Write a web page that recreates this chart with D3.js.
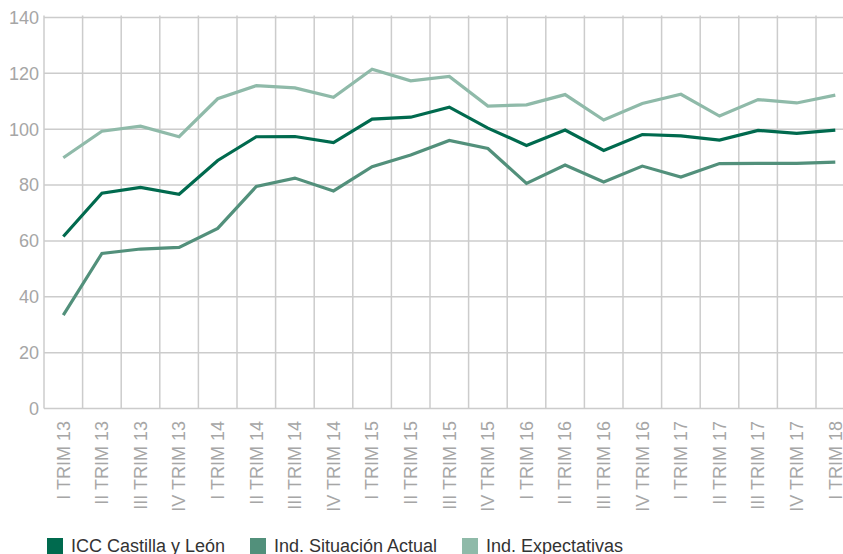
<!DOCTYPE html>
<html>
<head>
<meta charset="utf-8">
<script src="https://cdn.jsdelivr.net/npm/d3@7"></script>
<style>
  body { margin: 0; background: #fff; }
  svg { display: block; font-family: "Liberation Sans", Arial, sans-serif; }
</style>
</head>
<body>
<div id="canvas"></div>
<script>
// quarters
var periods = ["I TRIM 13", "II TRIM 13", "III TRIM 13", "IV TRIM 13",
               "I TRIM 14", "II TRIM 14", "III TRIM 14", "IV TRIM 14",
               "I TRIM 15", "II TRIM 15", "III TRIM 15", "IV TRIM 15",
               "I TRIM 16", "II TRIM 16", "III TRIM 16", "IV TRIM 16",
               "I TRIM 17", "II TRIM 17", "III TRIM 17", "IV TRIM 17",
               "I TRIM 18"];

var icc = [61.6, 77.1, 79.2, 76.7, 88.8, 97.3, 97.4, 95.2, 103.6, 104.3, 107.9,
           100.4, 94.2, 99.7, 92.4, 98.1, 97.6, 96.1, 99.6, 98.5, 99.7];
var actual = [33.4, 55.5, 57.1, 57.7, 64.5, 79.5, 82.5, 77.9, 86.6, 90.8, 96.0,
              93.1, 80.6, 87.2, 81.1, 86.8, 82.9, 87.7, 87.8, 87.8, 88.2];
var expect = [89.8, 99.3, 101.1, 97.3, 110.9, 115.6, 114.8, 111.4, 121.5, 117.3, 118.9,
              108.3, 108.7, 112.4, 103.3, 109.2, 112.5, 104.7, 110.6, 109.4, 112.2];

var seriesNames = ["ICC Castilla y León", "Ind. Situación Actual", "Ind. Expectativas"];
var seriesColors = ["#006a4e", "#52907b", "#8fbaa9"];
var yTicks = [0, 20, 40, 60, 80, 100, 120, 140];

draw();

function draw(){
	var w = 843,
	    h = 554;
	var svg = d3.select("#canvas").append("svg")
				.attr("width", w)
				.attr("height", h);

	var left = 44, top = 17.5, bottom = 408.5;

	// bands run a little past the right edge of the picture
	var xScale = d3.scaleBand()
					.domain(periods)
					.range([left, left + 38.6 * periods.length])
					.padding(0);
	var yScale = d3.scaleLinear()
					.domain([0, 140])
					.range([bottom, top]);

	// horizontal grid
	svg.append("g").selectAll("line")
		.data(yTicks)
		.join("line")
		.attr("x1", left)
		.attr("x2", w)
		.attr("y1", d => yScale(d))
		.attr("y2", d => yScale(d))
		.attr("stroke", "#cccccc")
		.attr("stroke-width", 1.5);

	// vertical grid at band edges
	svg.append("g").selectAll("line")
		.data(periods)
		.join("line")
		.attr("x1", d => xScale(d))
		.attr("x2", d => xScale(d))
		.attr("y1", top - 2)
		.attr("y2", bottom)
		.attr("stroke", "#cccccc")
		.attr("stroke-width", 1.5);

	// y tick labels
	svg.append("g").selectAll("text")
		.data(yTicks)
		.join("text")
		.attr("x", left - 5)
		.attr("y", d => yScale(d))
		.attr("dy", "0.35em")
		.attr("text-anchor", "end")
		.attr("fill", "#a6a6a6")
		.style("font-size", "18px")
		.text(d => d);

	// x tick labels, rotated
	svg.append("g").selectAll("text")
		.data(periods)
		.join("text")
		.attr("transform", d => "translate(" + (xScale(d) + xScale.bandwidth() / 2) + ",421) rotate(-90)")
		.attr("dy", "0.35em")
		.attr("text-anchor", "end")
		.attr("fill", "#a6a6a6")
		.style("font-size", "18px")
		.text(d => d);

	var line = d3.line()
		.x((d, i) => xScale(periods[i]) + xScale.bandwidth() / 2)
		.y(d => yScale(d));

	var allSeries = [icc, actual, expect];
	// draw light first so the dark index sits on top
	[2, 1, 0].forEach(function(k){
		svg.append("path")
			.datum(allSeries[k])
			.attr("d", line)
			.attr("fill", "none")
			.attr("stroke", seriesColors[k])
			.attr("stroke-width", 3.2)
			.attr("stroke-linejoin", "miter");
	});

	// legend
	var legendX = [47, 250, 462];
	var lg = svg.append("g").selectAll("g")
		.data(seriesNames)
		.join("g")
		.attr("transform", (d, i) => "translate(" + legendX[i] + ",538)");
	lg.append("rect")
		.attr("width", 16)
		.attr("height", 16)
		.attr("fill", (d, i) => seriesColors[i]);
	lg.append("text")
		.attr("x", 24)
		.attr("y", 14)
		.attr("fill", "#333333")
		.style("font-size", "18px")
		.text(d => d);
}
</script>
</body>
</html>
